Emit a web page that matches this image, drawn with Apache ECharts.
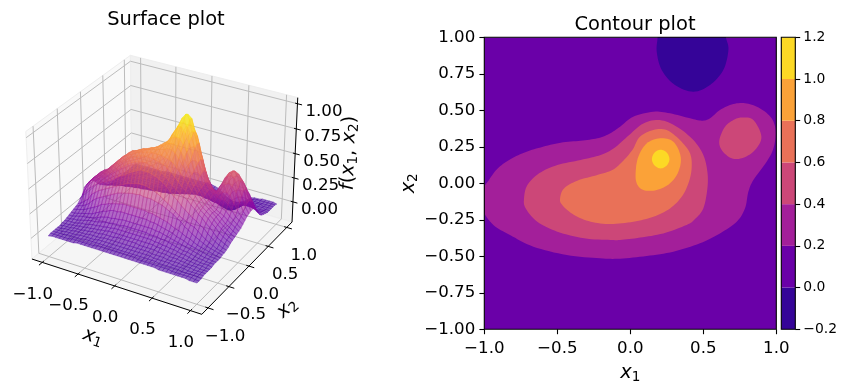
<!DOCTYPE html>
<html><head><meta charset="utf-8">
<style>html,body{margin:0;padding:0;background:#fff}#c{width:848px;height:391px}</style>
<script src="https://cdn.jsdelivr.net/npm/echarts@6/dist/echarts.min.js"></script>
</head><body><div id="c"></div>
<script>
// ---- values ----
const surfaceX1 = [-1,-.95,-.9,-.85,-.8,-.75,-.7,-.65,-.6,-.55,-.5,-.45,-.4,-.35,-.3,-.25,-.2,-.15,-.1,-.05,0,.05,.1,.15,.2,.25,.3,.35,.4,.45,.5,.55,.6,.65,.7,.75,.8,.85,.9,.95,1];
const surfaceX2 = surfaceX1;
// f(x1,x2) x 100; one row per x2 (from -1 to 1), one column per x1
const surfaceZ = [
[0,1,1,1,1,1,1,1,2,2,2,2,2,2,2,2,2,2,2,2,2,2,2,2,2,2,2,2,2,2,1,1,1,1,1,1,1,1,0,0,0],
[1,1,1,1,1,1,2,2,2,2,2,2,2,3,3,3,3,3,3,3,3,3,3,3,2,2,2,2,2,2,2,2,2,1,1,1,1,1,1,0,0],
[1,1,1,1,2,2,2,2,2,3,3,3,3,3,3,3,3,3,3,3,3,3,3,3,3,3,3,3,3,2,2,2,2,2,2,1,1,1,1,1,0],
[1,1,1,2,2,2,2,3,3,3,3,3,4,4,4,4,4,4,4,4,4,4,4,4,4,4,4,3,3,3,3,3,2,2,2,2,1,1,1,1,1],
[1,1,2,2,2,3,3,3,3,4,4,4,4,5,5,5,5,5,5,5,5,5,5,5,5,5,4,4,4,4,3,3,3,3,2,2,2,1,1,1,1],
[1,2,2,2,3,3,3,4,4,5,5,5,6,6,6,6,7,7,7,7,7,7,6,6,6,6,6,5,5,5,4,4,4,3,3,2,2,2,1,1,1],
[2,2,2,3,3,4,4,5,5,6,6,7,7,8,8,8,8,8,8,8,8,8,8,8,8,8,7,7,6,6,5,5,4,4,3,3,2,2,2,1,1],
[2,3,3,3,4,5,5,6,7,7,8,8,9,9,10,10,10,10,10,10,10,10,10,10,10,9,9,8,8,7,7,6,5,5,4,3,3,2,2,2,1],
[3,3,4,4,5,6,7,8,8,9,10,11,11,12,12,12,13,13,13,13,13,13,13,12,12,12,11,11,10,9,8,7,6,6,5,4,3,3,2,2,2],
[4,4,5,6,7,7,8,9,10,12,13,14,14,15,15,16,16,16,16,16,16,16,16,16,15,15,14,13,12,11,10,9,8,7,6,5,4,3,3,2,2],
[5,5,6,7,8,9,10,12,14,16,17,19,20,20,21,21,21,21,21,21,21,21,20,20,19,18,17,16,15,13,12,11,9,8,7,6,5,4,3,3,2],
[6,7,8,9,11,13,15,17,20,21,23,24,25,26,27,27,27,27,27,27,27,26,26,25,24,23,22,20,18,17,15,13,12,10,8,7,6,5,4,3,2],
[7,9,10,12,15,19,22,24,26,28,30,32,34,35,36,37,38,38,39,38,38,38,37,36,35,33,31,29,26,24,20,18,15,13,11,9,7,6,5,4,3],
[8,10,13,16,22,25,28,30,32,34,36,38,40,42,44,45,46,47,47,47,46,45,43,41,38,36,33,30,27,25,23,21,20,17,14,11,9,7,5,4,3],
[11,17,22,26,29,32,34,36,38,40,43,46,48,50,53,55,57,59,59,59,58,57,55,53,50,46,42,39,35,32,29,26,24,21,19,15,12,9,7,5,4],
[13,21,26,30,33,36,38,41,44,47,50,53,56,59,61,63,64,65,65,64,63,62,60,57,54,50,47,44,42,40,36,33,29,26,22,19,15,11,9,7,5],
[19,24,29,33,35,38,40,43,47,50,54,57,60,63,65,67,68,69,69,69,68,67,66,64,61,57,53,49,46,42,39,35,31,28,25,21,18,14,11,9,7],
[20,25,29,33,36,38,41,45,49,53,57,61,63,65,67,69,70,71,72,72,72,72,71,70,68,64,60,56,51,46,41,36,32,29,26,23,19,16,13,10,8],
[20,25,29,33,36,38,42,46,50,54,58,61,64,66,68,70,71,72,73,74,75,76,78,78,76,71,66,60,54,48,42,37,33,30,27,24,20,17,14,11,9],
[21,25,29,33,36,38,42,46,50,54,57,61,64,65,67,69,70,72,73,75,77,79,81,82,80,76,70,63,57,49,43,37,33,29,26,24,21,17,15,12,10],
[19,23,26,30,33,37,40,44,47,50,53,56,60,62,64,66,68,70,72,75,78,81,85,87,87,82,76,68,60,51,44,38,33,29,26,24,22,19,16,14,11],
[16,20,24,27,30,33,36,40,43,46,48,50,52,54,56,59,62,65,68,72,76,82,89,95,96,91,82,73,62,53,45,39,34,31,29,27,25,21,18,15,12],
[12,16,20,23,26,29,32,35,37,40,42,44,46,47,49,51,54,57,60,66,74,84,90,96,99,95,86,77,64,54,46,40,36,34,33,33,30,25,20,17,14],
[9,12,16,19,22,24,27,29,31,33,35,37,39,41,43,45,48,51,55,60,70,81,92,100,105,101,90,79,65,55,44,38,35,35,38,39,37,30,24,19,16],
[7,9,12,14,17,20,22,24,26,27,29,30,32,34,36,38,40,44,49,56,66,78,89,99,103,100,88,78,62,51,40,35,33,38,44,46,44,39,30,22,18],
[5,6,8,10,12,14,16,18,20,21,22,23,24,26,28,30,33,36,40,49,58,69,81,89,92,89,82,67,53,42,35,31,37,43,50,52,50,42,35,25,19],
[3,4,5,6,7,8,10,11,12,13,14,15,16,18,19,21,24,28,33,38,46,60,70,78,83,79,68,58,44,37,31,30,38,46,52,55,53,47,39,27,20],
[2,3,3,4,5,5,6,7,8,8,9,10,11,12,13,14,16,18,22,31,38,48,58,64,66,62,54,43,34,29,27,28,36,45,50,53,51,46,38,27,20],
[1,2,2,3,3,4,4,4,5,5,6,6,7,8,8,9,10,12,15,21,29,38,44,49,50,46,41,32,27,22,21,23,30,39,44,46,45,41,33,25,18],
[1,1,1,2,2,2,3,3,3,3,4,4,4,5,5,6,6,8,10,14,20,26,31,35,36,33,29,24,20,17,16,18,23,30,36,40,39,35,29,22,15],
[1,1,1,1,1,2,2,2,2,2,2,3,3,3,3,4,4,5,6,8,12,15,18,19,19,18,16,14,12,11,11,13,18,24,27,28,28,25,19,14,10],
[1,1,1,1,1,1,1,1,1,2,2,2,2,2,2,2,3,3,4,5,7,9,11,11,11,10,9,8,7,6,7,9,12,15,18,19,19,17,13,9,6],
[0,1,1,1,1,1,1,1,1,1,1,1,1,2,2,2,2,2,3,3,4,5,6,6,6,5,4,3,3,3,4,5,7,9,11,12,12,10,8,6,4],
[0,0,1,1,1,1,1,1,1,1,1,1,1,1,1,1,2,2,2,2,2,3,3,3,2,2,1,1,0,0,1,2,3,5,6,7,7,6,5,4,3],
[0,0,0,1,1,1,1,1,1,1,1,1,1,1,1,1,1,1,1,2,2,2,2,1,1,0,0,-2,-3,-3,-2,0,1,3,4,4,4,4,3,3,2],
[0,0,0,0,1,1,1,1,1,1,1,1,1,1,1,1,1,1,1,1,1,1,1,1,0,-2,-4,-6,-7,-7,-6,-3,-1,1,2,3,3,3,2,2,1],
[0,0,0,0,0,1,1,1,1,1,1,1,1,1,1,1,1,1,1,1,1,1,1,1,0,-3,-6,-9,-10,-10,-9,-6,-3,0,1,2,2,2,2,1,1],
[0,0,0,0,0,0,1,1,1,1,1,1,1,1,1,1,1,1,1,1,1,1,1,0,-1,-4,-8,-11,-13,-13,-11,-8,-5,-1,1,1,2,2,1,1,1],
[0,0,0,0,0,0,0,1,1,1,1,1,1,1,1,1,1,1,1,1,1,1,1,0,-2,-5,-9,-12,-14,-14,-12,-9,-5,-1,1,1,1,1,1,1,1],
[0,0,0,0,0,0,0,0,1,1,1,1,1,1,1,1,1,1,1,1,1,1,1,0,-2,-5,-8,-11,-13,-13,-11,-8,-5,-1,0,1,1,1,1,1,1],
[0,0,0,0,0,0,0,0,0,1,1,1,1,1,1,1,1,1,1,1,1,1,1,0,-1,-4,-7,-9,-10,-10,-9,-7,-4,-1,0,0,1,1,1,1,0]
];

const surfaceXTicks = [-1,-.5,0,.5,1];
const surfaceYTicks = [-1,-.5,0,.5,1];
const surfaceZTicks = [0,.25,.5,.75,1];
const xLim = 1.146, zLim = [-.214,1.06];

const levels = [-.2,0,.2,.4,.6,.8,1,1.2];
const levelColors = ['#350498','#6a00a8','#a31f9a','#cc4778','#e97158','#fba238','#fcd925'];
// contour outlines: [x1,x2]
const bandFull  = [[-1,-1],[1,-1],[1,1],[-1,1]];
const bandBelow0 = [[.19,1.1],[.187,1.0],[.181,.901],[.215,.776],[.306,.673],[.432,.627],[.546,.673],[.637,.776],[.672,.913],[.655,1.0],[.64,1.1]];
const bandAbove02 = [[-1.01,-.05],[-.968,.023],[-.91,.10],[-.83,.16],[-.728,.21],[-.614,.246],[-.477,.278],[-.34,.292],[-.226,.308],[-.146,.338],[-.07,.388],[.02,.456],[.158,.49],[.272,.479],[.409,.445],[.489,.429],[.546,.445],[.614,.502],[.706,.543],[.797,.547],[.889,.513],[.968,.445],[.996,.353],[.98,.239],[.934,.148],[.843,.022],[.808,-.06],[.786,-.171],[.729,-.263],[.614,-.343],[.477,-.411],[.295,-.468],[.112,-.498],[-.07,-.516],[-.207,-.514],[-.435,-.491],[-.664,-.434],[-.824,-.354],[-.938,-.285],[-1.01,-.18]];
const bandAbove04 = [[-.728,-.103],[-.705,-.012],[-.625,.068],[-.5,.125],[-.34,.16],[-.203,.194],[-.112,.24],[-.02,.32],[.09,.41],[.203,.433],[.318,.388],[.432,.296],[.5,.194],[.528,.079],[.528,-.035],[.5,-.172],[.443,-.245],[.386,-.285],[.226,-.343],[.067,-.372],[-.07,-.388],[-.135,-.388],[-.317,-.377],[-.5,-.331],[-.637,-.263],[-.717,-.171]];
const bandBump04 = [[.763,.451],[.843,.433],[.898,.319],[.854,.228],[.774,.175],[.694,.171],[.626,.228],[.61,.296],[.649,.388],[.706,.433]];
const bandAbove06 = [[-.481,-.103],[-.454,-.035],[-.363,.018],[-.226,.057],[-.123,.091],[-.055,.148],[.014,.228],[.066,.319],[.158,.365],[.249,.365],[.34,.296],[.409,.205],[.42,.102],[.398,0],[.352,-.092],[.272,-.172],[.158,-.229],[.021,-.263],[-.135,-.279],[-.271,-.263],[-.385,-.217],[-.466,-.149]];
const bandAbove08 = [[.204,.308],[.295,.285],[.345,.182],[.329,.079],[.272,0],[.18,-.046],[.09,-.046],[.044,0],[.037,.079],[.055,.182],[.112,.273]];
const bandAbove10 = [[.208,.23],[.25,.21],[.268,.166],[.25,.122],[.208,.102],[.166,.122],[.148,.166],[.166,.21]];
const contourBands = [[bandFull,1],[bandBelow0,0],[bandAbove02,2],[bandAbove04,3],[bandBump04,3],[bandAbove06,4],[bandAbove08,5],[bandAbove10,6]];

// ---- helpers ----
const FONT='"DejaVu Sans"';
const fmt=(v,d)=>{const s=Math.abs(v).toFixed(d);return (v<-1e-9?'\u2212':'')+s;};
const plasma=['#0d0887','#41049d','#6a00a8','#8f0da4','#b12a90','#cc4778','#e16462','#f2844b','#fca636','#fcce25','#f0f921'].map(h=>[1,3,5].map(i=>parseInt(h.substr(i,2),16)));
function plasmaAt(t){t=Math.max(0,Math.min(1,t))*10;const i=Math.min(9,Math.floor(t)),f=t-i;return plasma[i].map((c,k)=>Math.round(c+(plasma[i+1][k]-c)*f));}
// rounds a read outline for drawing (closed Catmull-Rom through the read points)
function rounded(pts){
  const n=pts.length,out=[];
  for(let k=0;k<n;k++){
    const a=pts[(k-1+n)%n],b=pts[k],c=pts[(k+1)%n],d=pts[(k+2)%n];
    for(let s=0;s<8;s++){const t=s/8,t2=t*t,t3=t2*t;
      out.push([0,1].map(q=>.5*(2*b[q]+(c[q]-a[q])*t+(2*a[q]-5*b[q]+4*c[q]-d[q])*t2+(3*b[q]-a[q]-3*c[q]+d[q])*t3)));
    }
  }
  return out;
}
// camera of the 3D panel
const BX=.595,BZ=.446;
const u=[.866,.5,0],v=[-.25,.433,.866],w=[.433,-.75,.5],DIST=10;
function cube(x1,x2,z){return [x1/xLim*BX,x2/xLim*BX,(z-(zLim[0]+zLim[1])/2)/(zLim[1]-zLim[0])*2*BZ];}
const dot=(a,b)=>a[0]*b[0]+a[1]*b[1]+a[2]*b[2];
function proj(x1,x2,z){const p=cube(x1,x2,z),f=DIST/(DIST-dot(p,w));return [dot(p,u)*f,dot(p,v)*f];}
const depth=(x1,x2,z)=>dot(cube(x1,x2,z),w);

const ZAll=[].concat(...surfaceZ),zMin=Math.min(...ZAll)/100,zMax=Math.max(...ZAll)/100;
const cells=[];
for(let j=0;j<40;j++)for(let i=0;i<40;i++){
  const zm=(surfaceZ[j][i]+surfaceZ[j][i+1]+surfaceZ[j+1][i]+surfaceZ[j+1][i+1])/400;
  cells.push([i,j,zm,depth((surfaceX1[i]+surfaceX1[i+1])/2,(surfaceX2[j]+surfaceX2[j+1])/2,zm)]);
}
cells.sort((a,b)=>a[3]-b[3]);

const SURF_ALPHA=.6;
function renderCell(params,api){
  const i=api.value(0),j=api.value(1),zm=api.value(2);
  const P=(a,b)=>api.coord(proj(surfaceX1[a],surfaceX2[b],surfaceZ[b][a]/100));
  const c=plasmaAt((zm-zMin)/(zMax-zMin)),col='rgba('+c.join(',')+','+SURF_ALPHA+')';
  return {type:'polygon',silent:true,shape:{points:[P(i,j),P(i+1,j),P(i+1,j+1),P(i,j+1)]},style:{fill:col,stroke:col,lineWidth:.6}};
}
const Z0=zLim[0],Z1=zLim[1],L=xLim;
const panes=[
 {pts:[[-L,-L,Z0],[-L,L,Z0],[-L,L,Z1],[-L,-L,Z1]],fill:'#f9f9f9'},
 {pts:[[-L,L,Z0],[L,L,Z0],[L,L,Z1],[-L,L,Z1]],fill:'#f1f1f1'},
 {pts:[[-L,-L,Z0],[L,-L,Z0],[L,L,Z0],[-L,L,Z0]],fill:'#f5f5f5'}
];
const gridSegs=[];
surfaceXTicks.forEach(t=>{gridSegs.push([[t,-L,Z0],[t,L,Z0],[t,L,Z1]]);});
surfaceYTicks.forEach(t=>{gridSegs.push([[L,t,Z0],[-L,t,Z0],[-L,t,Z1]]);});
surfaceZTicks.forEach(t=>{gridSegs.push([[-L,-L,t],[-L,L,t],[L,L,t]]);});
const axisSegs=[[[-L,-L,Z0],[L,-L,Z0]],[[L,-L,Z0],[L,L,Z0]],[[L,L,Z0],[L,L,Z1]]];
surfaceXTicks.forEach(t=>axisSegs.push([[t,-L+.035,Z0],[t,-L-.07,Z0]]));
surfaceYTicks.forEach(t=>axisSegs.push([[L-.035,t,Z0],[L+.07,t,Z0]]));
surfaceZTicks.forEach(t=>axisSegs.push([[L-.03,L,t],[L+.06,L,t]]));
const txt=(x,y,text,size,extra)=>Object.assign({type:'text',silent:true,x:x,y:y,style:Object.assign({text:text,fontFamily:FONT,fontSize:size,fill:'#000',align:'center',verticalAlign:'middle'},extra||{})});
const mathRich={i:{fontFamily:FONT,fontStyle:'italic',fontSize:19.4,fill:'#000',color:'#000'},n:{fontFamily:FONT,fontSize:19.4,fill:'#000',color:'#000'},s:{fontFamily:FONT,fontSize:13.6,fill:'#000',color:'#000',padding:[9,0,0,0]}};
const C=p=>proj(p[0],p[1],p[2]);
const frameEl=(api,a,b)=>{const p=api.coord(a),q=api.coord(b);return {type:'rect',silent:true,shape:{x:p[0],y:q[1],width:q[0]-p[0],height:p[1]-q[1]},style:{fill:'none',stroke:'#000',lineWidth:1.1}};};

const option={
 animation:false,backgroundColor:'#fff',
 textStyle:{fontFamily:FONT},
 title:[
  {text:'Surface plot',left:161,top:5,textAlign:'center',textStyle:{fontFamily:FONT,fontSize:19.44,fontWeight:'normal',color:'#000'}},
  {text:'Contour plot',left:630,top:10,textAlign:'center',textStyle:{fontFamily:FONT,fontSize:19.44,fontWeight:'normal',color:'#000'}}
 ],
 grid:[
  {left:.9,top:15.6,width:327,height:326,show:false},
  {left:484.3,top:37.3,width:292,height:292,show:false},
  {left:781.3,top:37.3,width:14,height:292,show:false}
 ],
 xAxis:[
  {gridIndex:0,type:'value',min:-1,max:1,show:false},
  {gridIndex:1,type:'value',min:-1,max:1,interval:.5,splitLine:{show:false},
   axisLine:{show:false,onZero:false},axisTick:{length:4.9,lineStyle:{color:'#000',width:1.1}},
   axisLabel:{margin:11,fontFamily:FONT,fontSize:16.67,color:'#000',formatter:v=>fmt(v,1),hideOverlap:false},
   name:'{i|x}{s|1}',nameLocation:'middle',nameGap:32,nameTextStyle:{rich:mathRich,color:'#000'}},
  {gridIndex:2,type:'value',min:0,max:1,show:false}
 ],
 yAxis:[
  {gridIndex:0,type:'value',min:-1,max:1,show:false},
  {gridIndex:1,type:'value',min:-1,max:1,interval:.25,splitLine:{show:false},
   axisLine:{show:false,onZero:false},axisTick:{length:4.9,lineStyle:{color:'#000',width:1.1}},
   axisLabel:{margin:9,fontFamily:FONT,fontSize:16.67,color:'#000',padding:[3,0,0,0],formatter:v=>fmt(v,2)},
   name:'{i|x}{s|2}',nameLocation:'middle',nameGap:64,nameRotate:90,nameTextStyle:{rich:mathRich,color:'#000'}},
  {gridIndex:2,type:'value',position:'right',min:-.2,max:1.2,interval:.2,splitLine:{show:false},
   axisLine:{show:false,onZero:false},axisTick:{length:4.9,lineStyle:{color:'#000',width:1.1}},
   axisLabel:{margin:8,fontFamily:FONT,fontSize:13.9,color:'#000',padding:[4,0,0,0],formatter:v=>fmt(v,1)}}
 ],
 series:[
  {type:'custom',xAxisIndex:0,yAxisIndex:0,clip:false,silent:true,progressive:0,data:panes.map((p,i)=>[i,i]),encode:{x:0,y:1},
   renderItem:(ps,api)=>{const p=panes[ps.dataIndex];return {type:'polygon',silent:true,shape:{points:p.pts.map(q=>api.coord(C(q)))},style:{fill:p.fill,stroke:'#eeeeee',lineWidth:1}};}},
  {type:'custom',xAxisIndex:0,yAxisIndex:0,clip:false,silent:true,progressive:0,data:gridSegs.map((p,i)=>[i,i]),encode:{x:0,y:1},
   renderItem:(ps,api)=>({type:'polyline',silent:true,shape:{points:gridSegs[ps.dataIndex].map(q=>api.coord(C(q)))},style:{fill:'none',stroke:'#bcbcbc',lineWidth:1}})},
  {type:'custom',xAxisIndex:0,yAxisIndex:0,clip:false,silent:true,progressive:0,data:axisSegs.map((p,i)=>[i,i]),encode:{x:0,y:1},
   renderItem:(ps,api)=>({type:'polyline',silent:true,shape:{points:axisSegs[ps.dataIndex].map(q=>api.coord(C(q)))},style:{fill:'none',stroke:'#000',lineWidth:1}})},
  {type:'custom',xAxisIndex:0,yAxisIndex:0,clip:false,silent:true,progressive:0,animation:false,data:cells,encode:{x:0,y:1},renderItem:renderCell},
  {type:'custom',xAxisIndex:0,yAxisIndex:0,clip:false,silent:true,progressive:0,data:[[0,0]],encode:{x:0,y:1},
   renderItem:(ps,api)=>{
     const ch=[];
     surfaceXTicks.forEach(t=>{const p=api.coord(C([t,-L,Z0]));ch.push(txt(p[0]-9.5,p[1]+32,fmt(t,1),16.67));});
     surfaceYTicks.forEach(t=>{const p=api.coord(C([L,t,Z0]));ch.push(txt(p[0]+17,p[1]+28.5,fmt(t,1),16.67));});
     surfaceZTicks.forEach(t=>{const p=api.coord(C([L,L,t]));ch.push(txt(p[0]+26.5,p[1]+8,fmt(t,2),16.67));});
     ch.push({type:'text',silent:true,x:93,y:337,rotation:-18*Math.PI/180,style:{text:'{i|x}{s|1}',rich:mathRich,align:'center',verticalAlign:'middle'}});
     ch.push({type:'text',silent:true,x:287,y:308,rotation:42*Math.PI/180,style:{text:'{i|x}{s|2}',rich:mathRich,align:'center',verticalAlign:'middle'}});
     ch.push({type:'text',silent:true,x:349,y:153,rotation:88*Math.PI/180,style:{text:'{i|f}{n|(}{i|x}{s|1}{n|, }{i|x}{s|2}{n|)}',rich:mathRich,align:'center',verticalAlign:'middle'}});
     return {type:'group',children:ch};
   }},
  {type:'custom',xAxisIndex:1,yAxisIndex:1,clip:true,silent:true,progressive:0,data:contourBands.map((b,i)=>[i,i]),encode:{x:0,y:1},
   renderItem:(ps,api)=>{const b=contourBands[ps.dataIndex],o=ps.dataIndex===0?b[0]:rounded(b[0]);return {type:'polygon',silent:true,shape:{points:o.map(q=>api.coord(q))},style:{fill:levelColors[b[1]]}};}},
  {type:'custom',xAxisIndex:1,yAxisIndex:1,clip:false,silent:true,z:5,data:[[0,0]],encode:{x:0,y:1},
   renderItem:(ps,api)=>frameEl(api,[-1,-1],[1,1])},
  {type:'custom',xAxisIndex:2,yAxisIndex:2,clip:false,silent:true,progressive:0,data:levelColors.map((c,i)=>[i,i]),encode:{x:0,y:1},
   renderItem:(ps,api)=>{const k=ps.dataIndex,p=api.coord([0,levels[k]]),q=api.coord([1,levels[k+1]]);return {type:'rect',silent:true,shape:{x:p[0],y:q[1],width:q[0]-p[0],height:p[1]-q[1]},style:{fill:levelColors[k]}};}},
  {type:'custom',xAxisIndex:2,yAxisIndex:2,clip:false,silent:true,z:5,data:[[0,0]],encode:{x:0,y:1},
   renderItem:(ps,api)=>frameEl(api,[0,-.2],[1,1.2])}
 ]
};
const chart=echarts.init(document.getElementById('c'),null,{renderer:'canvas',width:848,height:391});
chart.setOption(option);
</script></body></html>
